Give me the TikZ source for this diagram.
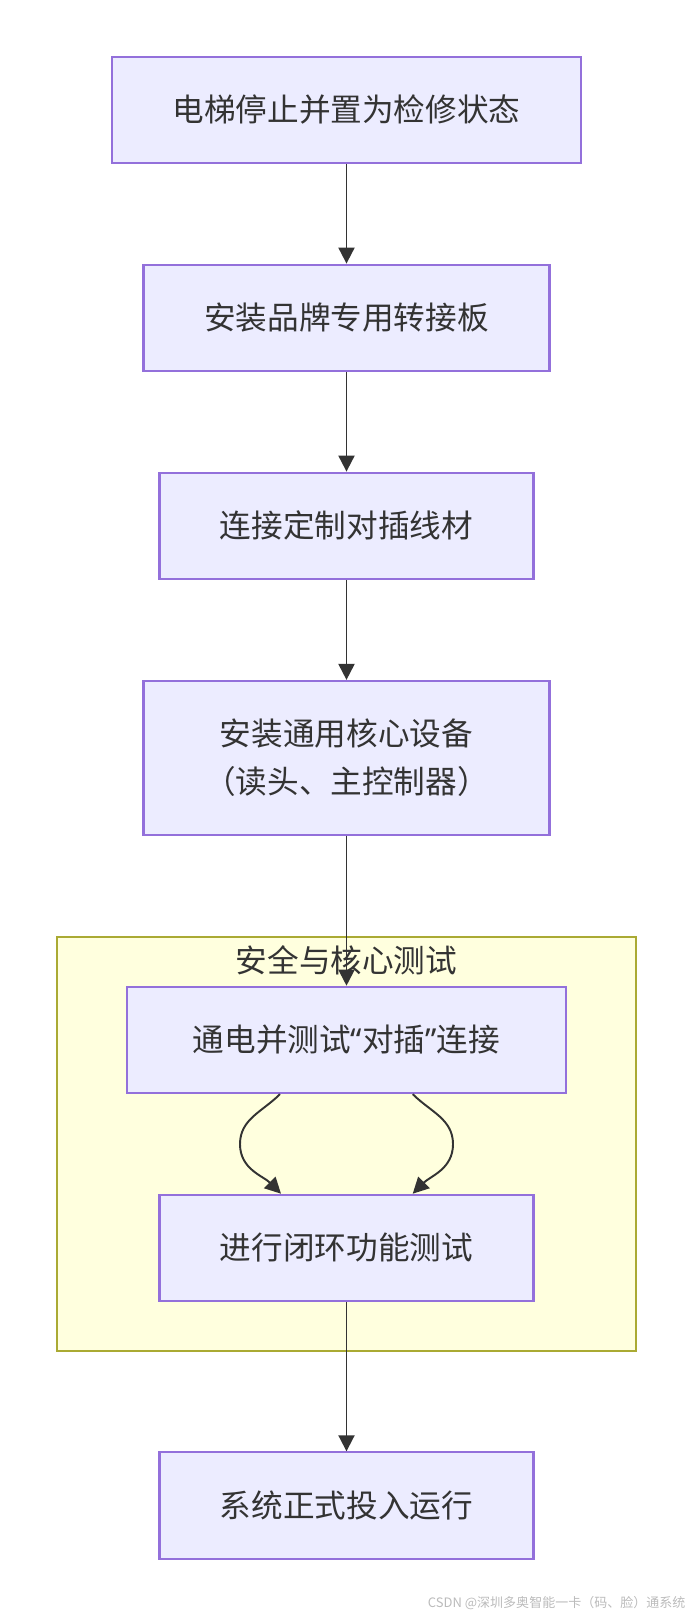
\documentclass[tikz,border=0pt]{standalone}
\usepackage{fontspec}
\setmainfont{Noto Sans CJK SC}
\newfontfamily\quotefont{Noto Sans}
\usetikzlibrary{arrows.meta}
\definecolor{mm_fill}{HTML}{ECECFF}
\definecolor{mm_line}{HTML}{9370DB}
\definecolor{mm_text}{HTML}{333333}
\definecolor{cl_fill}{HTML}{FFFFDE}
\definecolor{cl_line}{HTML}{AAAA33}
\definecolor{wm_text}{HTML}{BBBBBB}
\tikzstyle{pn}=[rectangle,fill=mm_fill,draw=mm_line,line width=0.6pt,text=mm_text,
  font=\fontsize{9pt}{13.6pt}\selectfont,align=center,inner sep=0pt,minimum height=1.063cm]
\tikzstyle{grp}=[rectangle,fill=cl_fill,draw=cl_line,line width=0.6pt,inner sep=0pt]
\tikzstyle{lbl}=[text=mm_text,font=\fontsize{9pt}{13.6pt}\selectfont,inner sep=0pt]
\tikzstyle{wm}=[text=wm_text,font=\fontsize{3.7pt}{4.5pt}\selectfont,inner sep=0pt]
\tikzstyle{flow}=[draw=mm_text,line width=0.55pt,-{Triangle[length=1.6mm,width=1.6mm]}]

\begin{document}
\begin{tikzpicture}
	\useasboundingbox (0,0) rectangle (6.93,-16.16);
	\node [style=grp,minimum width=5.796cm,minimum height=4.143cm] (7) at (3.465,-11.439) {};
	\node [style=lbl] (8) at (3.465,-9.60) {安全与核心测试};
	\node [style=pn,minimum width=4.696cm] (0) at (3.465,-1.099) {电梯停止并置为检修状态};
	\node [style=pn,minimum width=4.06cm] (1) at (3.465,-3.178) {安装品牌专用转接板};
	\node [style=pn,minimum width=3.74cm] (2) at (3.465,-5.258) {连接定制对插线材};
	\node [style=pn,minimum width=4.06cm,minimum height=1.537cm] (3) at (3.465,-7.578) {安装通用核心设备\\（读头、主控制器）};
	\node [style=pn,minimum width=4.398cm] (4) at (3.465,-10.399) {通电并测试{\quotefont “}对插{\quotefont ”}连接};
	\node [style=pn,minimum width=3.74cm] (5) at (3.465,-12.479) {进行闭环功能测试};
	\node [style=pn,minimum width=3.74cm] (6) at (3.465,-15.055) {系统正式投入运行};
	\node [style=wm,anchor=east] (9) at (6.86,-16.027) {CSDN @深圳多奥智能一卡（码、脸）通系统};
	\draw [style=flow] (0) to (1);
	\draw [style=flow] (1) to (2);
	\draw [style=flow] (2) to (3);
	\draw [style=flow] (3) to (4);
	\draw [style=flow] ([xshift=-0.665cm]4.south) to [out=225,in=90] ([xshift=-1.065cm,yshift=-0.5cm]4.south)
		to [out=270,in=135] ([xshift=-0.655cm]5.north);
	\draw [style=flow] ([xshift=0.662cm]4.south) to [out=315,in=90] ([xshift=1.065cm,yshift=-0.5cm]4.south)
		to [out=270,in=45] ([xshift=0.662cm]5.north);
	\draw [style=flow] (5) to (6);
\end{tikzpicture}
\end{document}
